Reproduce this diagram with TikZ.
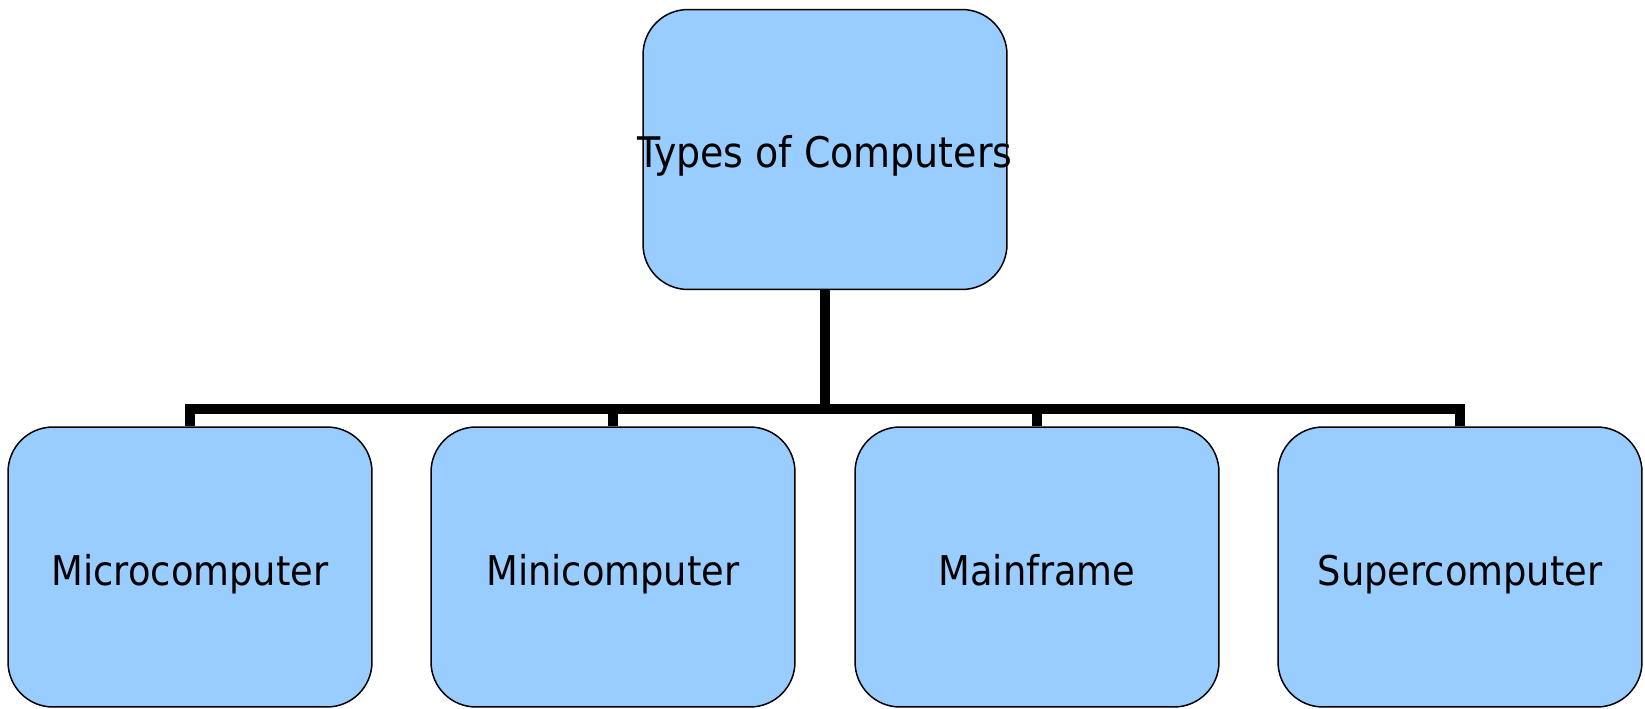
\documentclass[tikz,border=0pt]{standalone}
\usepackage{fontspec}
\setmainfont{DejaVu Sans Condensed}
\definecolor{boxblue}{HTML}{99CCFF}
\begin{document}
\begin{tikzpicture}[x=0.02cm,y=-0.02cm,
  cbox/.style={draw=black, line width=0.85pt, fill=boxblue, rounded corners=0.9cm,
    rectangle, inner sep=0pt, minimum width=7.28cm, minimum height=5.6cm,
    text height=0.72cm, text depth=0cm,
    font=\fontsize{23.3}{28}\selectfont},
  conn/.style={draw=black, line width=0.21cm, line join=miter}]
\useasboundingbox (0,0) rectangle (1645,709);
\node[cbox] (top) at (825,149.5) {\makebox[0pt][c]{\fontsize{24}{28}\selectfont Types of Computers}};
\node[cbox] (micro) at (190,567) {\makebox[0pt][c]{Microcomputer}};
\node[cbox] (mini) at (613,567) {\makebox[0pt][c]{Minicomputer}};
\node[cbox] (main) at (1037,567) {\makebox[0pt][c]{Mainframe}};
\node[cbox] (super) at (1460,567) {\makebox[0pt][c]{Supercomputer}};
\coordinate (bar) at (825,409);
\draw[conn] (top.south) -- (bar) -| (micro.north);
\draw[conn] (bar) -| (mini.north);
\draw[conn] (bar) -| (main.north);
\draw[conn] (bar) -| (super.north);
\end{tikzpicture}
\end{document}
